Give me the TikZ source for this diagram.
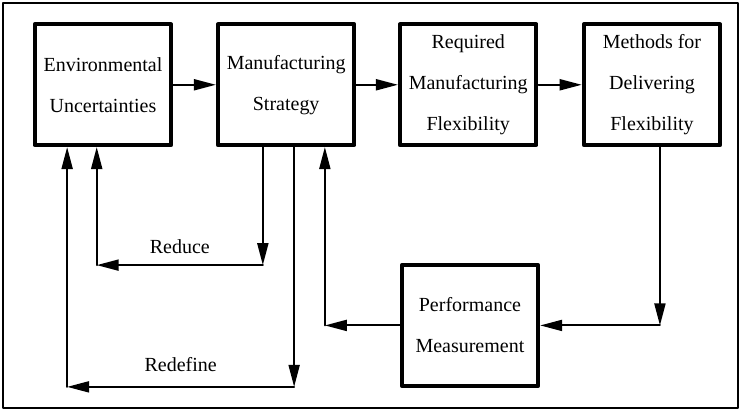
\documentclass[tikz,border=0pt]{standalone}
\usepackage{fontspec}
\setmainfont{Liberation Serif}
\usepackage{tikz}
\usetikzlibrary{arrows.meta}

\begin{document}
\begin{tikzpicture}[>={Triangle[length=11pt, width=5.5pt]}, line width=1pt, line cap=round, line join=round]

    % Stile dei blocchi
    \tikzset{block/.style={draw, rectangle, line width=2pt, minimum width=2.4cm, minimum height=2.12cm,
        inner sep=0pt, align=center, font=\fontsize{10}{20.5}\selectfont}}

    \useasboundingbox (0, 0) rectangle (13.06, -7.24);
    \draw[line width=0.8pt] (0.05, -0.05) rectangle (12.97, -7.17); % cornice

    % Blocchi principali
    \node[block] (env)  at (1.81, -1.49) {Environmental\\Uncertainties};
    \node[block] (mfg)  at (5.03, -1.49) {Manufacturing\\Strategy};
    \node[block] (req)  at (8.23, -1.49) {Required\\Manufacturing\\Flexibility};
    \node[block] (meth) at (11.46, -1.49) {Methods for\\Delivering\\Flexibility};
    \node[block] (perf) at (8.26, -5.72) {Performance\\Measurement};

    % Punti d'angolo dei percorsi di ritorno
    \coordinate (rd1) at (4.62, -4.66);
    \coordinate (rd2) at (1.70, -4.66);
    \coordinate (rf1) at (5.17, -6.80);
    \coordinate (rf2) at (1.18, -6.80);
    \coordinate (pm1) at (5.71, -5.72);
    \coordinate (pm2) at (11.60, -5.72);

    % Percorso diretto
    \draw[->] (env) -- (mfg);
    \draw[->] (mfg) -- (req);
    \draw[->] (req) -- (meth);

    % Reduce
    \draw[->] (mfg.south -| rd1) -- (rd1);
    \draw[->] (rd1) -- (rd2) node[midway, above=2pt] {Reduce};
    \draw[->] (rd2) -- (env.south -| rd2);

    % Redefine
    \draw[->] (mfg.south -| rf1) -- (rf1);
    \draw[->] (rf1) -- (rf2) node[midway, above=4pt] {Redefine};
    \draw[->] (rf2) -- (env.south -| rf2);

    % Misura delle prestazioni
    \draw[->] (meth.south -| pm2) -- (pm2);
    \draw[->] (pm2) -- (perf.east);
    \draw[->] (perf.west) -- (pm1);
    \draw[->] (pm1) -- (mfg.south -| pm1);

\end{tikzpicture}
\end{document}
